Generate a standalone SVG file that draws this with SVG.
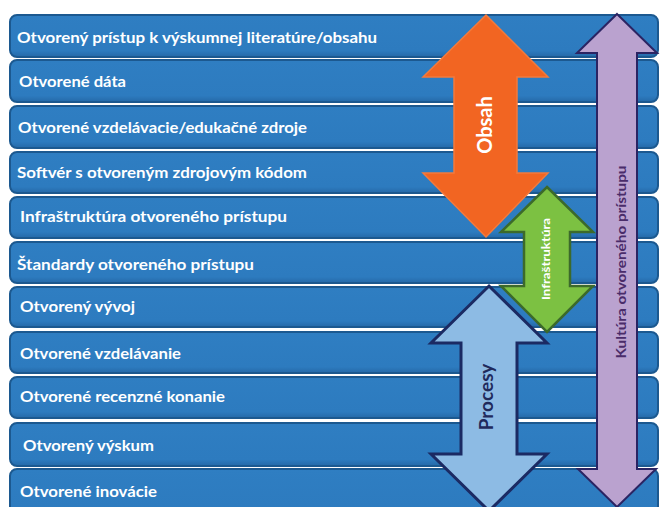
<svg xmlns="http://www.w3.org/2000/svg" width="660" height="507" viewBox="0 0 660 507">
<defs>
<linearGradient id="barG" x1="0" y1="0" x2="0" y2="1">
<stop offset="0" stop-color="#2f7ec2"/>
<stop offset="0.85" stop-color="#2d7bbf"/>
<stop offset="1" stop-color="#2569a8"/>
</linearGradient>
</defs>
<style>
.bar{fill:url(#barG);stroke:#1c5990;stroke-width:2}
.lbl{font-family:Lato,"Open Sans","Liberation Sans",sans-serif;font-weight:bold;font-size:15px;fill:#ffffff}
.vt{font-family:Lato,"Open Sans","Liberation Sans",sans-serif;font-weight:bold;text-anchor:middle}
</style>
<rect width="660" height="507" fill="#ffffff"/>
<g id="bars">
<g id="b1"><rect class="bar" x="10" y="15" width="648" height="42" rx="7"/><text class="lbl" x="17" y="43" textLength="360" lengthAdjust="spacingAndGlyphs">Otvorený prístup k výskumnej literatúre/obsahu</text></g>
<g id="b2"><rect class="bar" x="10" y="60" width="648" height="42" rx="7"/><text class="lbl" x="19" y="87" textLength="107" lengthAdjust="spacingAndGlyphs">Otvorené dáta</text></g>
<g id="b3"><rect class="bar" x="10" y="106" width="648" height="42" rx="7"/><text class="lbl" x="18" y="133" textLength="289" lengthAdjust="spacingAndGlyphs">Otvorené vzdelávacie/edukačné zdroje</text></g>
<g id="b4"><rect class="bar" x="10" y="152" width="648" height="41" rx="7"/><text class="lbl" x="17" y="178" textLength="290" lengthAdjust="spacingAndGlyphs">Softvér s otvoreným zdrojovým kódom</text></g>
<g id="b5"><rect class="bar" x="10" y="197" width="648" height="41" rx="7"/><text class="lbl" x="20" y="222" textLength="267" lengthAdjust="spacingAndGlyphs">Infraštruktúra otvoreného prístupu</text></g>
<g id="b6"><rect class="bar" x="10" y="242" width="648" height="41" rx="7"/><text class="lbl" x="17" y="270" textLength="237" lengthAdjust="spacingAndGlyphs">Štandardy otvoreného prístupu</text></g>
<g id="b7"><rect class="bar" x="10" y="287" width="648" height="40" rx="7"/><text class="lbl" x="20" y="312" textLength="115" lengthAdjust="spacingAndGlyphs">Otvorený vývoj</text></g>
<g id="b8"><rect class="bar" x="10" y="332" width="648" height="41" rx="7"/><text class="lbl" x="20" y="359" textLength="161" lengthAdjust="spacingAndGlyphs">Otvorené vzdelávanie</text></g>
<g id="b9"><rect class="bar" x="10" y="377" width="648" height="41" rx="7"/><text class="lbl" x="20" y="402" textLength="205" lengthAdjust="spacingAndGlyphs">Otvorené recenzné konanie</text></g>
<g id="b10"><rect class="bar" x="10" y="423" width="648" height="43" rx="7"/><text class="lbl" x="23" y="451" textLength="131" lengthAdjust="spacingAndGlyphs">Otvorený výskum</text></g>
<g id="b11"><rect class="bar" x="10" y="469" width="648" height="44" rx="7"/><text class="lbl" x="20" y="497" textLength="137" lengthAdjust="spacingAndGlyphs">Otvorené inovácie</text></g>
</g>
<g id="arrows">
<g id="obsah">
<polygon points="486,15 548,77 517,77 517,173 548,173 486,237 423,173 454,173 454,77 423,77" fill="#f26522" stroke="#f47a3c" stroke-width="1.5" stroke-linejoin="miter"/>
<text class="vt" transform="translate(485,125) rotate(-90)" dy="7" font-size="20" fill="#ffffff">Obsah</text>
</g>
<g id="procesy">
<polygon points="489,286 547,343 517,343 517,454 547,454 489,511 431,454 461,454 461,343 431,343" fill="#8dbbe4" stroke="#1b2a63" stroke-width="3" stroke-linejoin="miter"/>
<text class="vt" transform="translate(486,397) rotate(-90)" dy="7" font-size="19" fill="#1f2a5c">Procesy</text>
</g>
<g id="infrastruktura">
<polygon points="547,187 593,232 570,232 570,286 593,286 547,332 501,286 524,286 524,232 501,232" fill="#7cc142" stroke="#3c6a2b" stroke-width="2.5" stroke-linejoin="miter"/>
<text class="vt" transform="translate(550,259) rotate(-90)" dy="0" font-size="10.5" fill="#ffffff" textLength="82" lengthAdjust="spacingAndGlyphs">Infraštruktúra</text>
</g>
<g id="kultura">
<polygon points="617,14 657,53 637,53 637,469 656,469 617,507 578,469 597,469 597,53 577,53" fill="#baa2cf" stroke="#2b2463" stroke-width="2" stroke-linejoin="miter"/>
<text class="vt" transform="translate(617,262) rotate(-90)" dy="9" font-size="13.5" fill="#4a2c6a" textLength="193" lengthAdjust="spacingAndGlyphs">Kultúra otvoreného prístupu</text>
</g>
</g>
</svg>
